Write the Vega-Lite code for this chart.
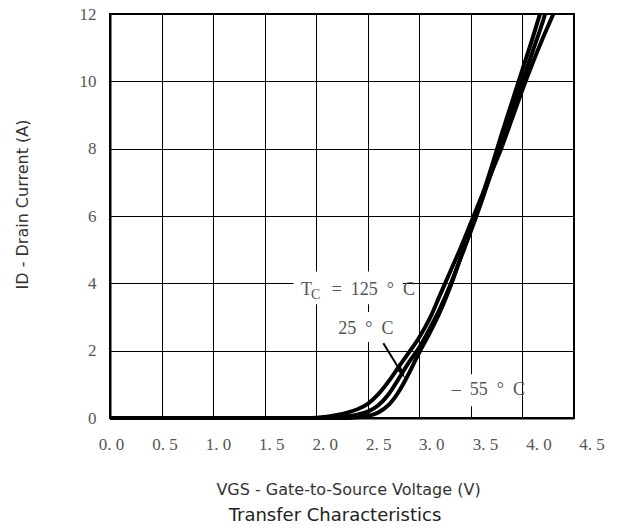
{
  "$schema": "https://vega.github.io/schema/vega-lite/v6.json",
  "width": 464,
  "height": 404,
  "autosize": {"type": "none"},
  "padding": {"left": 110, "top": 14, "right": 45, "bottom": 111},
  "background": "white",
  "title": {"text": "Transfer Characteristics", "orient": "bottom", "anchor": "middle", "frame": "group", "font": "DejaVu Sans", "fontSize": 18, "fontWeight": "normal", "color": "#222", "offset": 10, "dx": -7},
  "config": {"view": {"stroke": "black", "strokeWidth": 2}},
  "datasets": {
    "curves": [
      {"series": "125", "V": 0, "I": 0}, {"series": "125", "V": 1.9, "I": 0}, {"series": "125", "V": 2.0, "I": 0.01}, {"series": "125", "V": 2.1, "I": 0.04}, {"series": "125", "V": 2.2, "I": 0.09}, {"series": "125", "V": 2.3, "I": 0.16}, {"series": "125", "V": 2.4, "I": 0.26}, {"series": "125", "V": 2.5, "I": 0.42}, {"series": "125", "V": 2.6, "I": 0.7}, {"series": "125", "V": 2.7, "I": 1.08}, {"series": "125", "V": 2.8, "I": 1.52}, {"series": "125", "V": 2.9, "I": 1.95}, {"series": "125", "V": 3.0, "I": 2.4}, {"series": "125", "V": 3.1, "I": 2.95}, {"series": "125", "V": 3.2, "I": 3.65}, {"series": "125", "V": 3.3, "I": 4.35}, {"series": "125", "V": 3.4, "I": 5.05}, {"series": "125", "V": 3.5, "I": 5.8}, {"series": "125", "V": 3.6, "I": 6.55}, {"series": "125", "V": 3.7, "I": 7.3}, {"series": "125", "V": 3.8, "I": 8.05}, {"series": "125", "V": 3.9, "I": 8.9}, {"series": "125", "V": 4.0, "I": 9.75}, {"series": "125", "V": 4.1, "I": 10.55}, {"series": "125", "V": 4.2, "I": 11.3}, {"series": "125", "V": 4.3, "I": 12.0},
      {"series": "25", "V": 0, "I": 0}, {"series": "25", "V": 2.1, "I": 0}, {"series": "25", "V": 2.2, "I": 0.02}, {"series": "25", "V": 2.3, "I": 0.05}, {"series": "25", "V": 2.4, "I": 0.1}, {"series": "25", "V": 2.5, "I": 0.19}, {"series": "25", "V": 2.6, "I": 0.37}, {"series": "25", "V": 2.7, "I": 0.7}, {"series": "25", "V": 2.8, "I": 1.17}, {"series": "25", "V": 2.9, "I": 1.66}, {"series": "25", "V": 3.0, "I": 2.1}, {"series": "25", "V": 3.1, "I": 2.65}, {"series": "25", "V": 3.2, "I": 3.25}, {"series": "25", "V": 3.3, "I": 3.95}, {"series": "25", "V": 3.4, "I": 4.75}, {"series": "25", "V": 3.5, "I": 5.55}, {"series": "25", "V": 3.6, "I": 6.4}, {"series": "25", "V": 3.7, "I": 7.3}, {"series": "25", "V": 3.8, "I": 8.2}, {"series": "25", "V": 3.9, "I": 9.1}, {"series": "25", "V": 4.0, "I": 10.0}, {"series": "25", "V": 4.1, "I": 10.9}, {"series": "25", "V": 4.2, "I": 11.8}, {"series": "25", "V": 4.22, "I": 12.0},
      {"series": "-55", "V": 0, "I": 0}, {"series": "-55", "V": 2.3, "I": 0}, {"series": "-55", "V": 2.4, "I": 0.02}, {"series": "-55", "V": 2.5, "I": 0.06}, {"series": "-55", "V": 2.6, "I": 0.16}, {"series": "-55", "V": 2.7, "I": 0.38}, {"series": "-55", "V": 2.8, "I": 0.78}, {"series": "-55", "V": 2.9, "I": 1.33}, {"series": "-55", "V": 3.0, "I": 1.95}, {"series": "-55", "V": 3.1, "I": 2.52}, {"series": "-55", "V": 3.2, "I": 3.15}, {"series": "-55", "V": 3.3, "I": 3.9}, {"series": "-55", "V": 3.4, "I": 4.75}, {"series": "-55", "V": 3.5, "I": 5.6}, {"series": "-55", "V": 3.6, "I": 6.5}, {"series": "-55", "V": 3.7, "I": 7.45}, {"series": "-55", "V": 3.8, "I": 8.45}, {"series": "-55", "V": 3.9, "I": 9.4}, {"series": "-55", "V": 4.0, "I": 10.35}, {"series": "-55", "V": 4.1, "I": 11.3}, {"series": "-55", "V": 4.17, "I": 12.0}
    ],
    "labels": [
      {"label": "T", "V": 1.853, "I": 3.653},
      {"label": "=\u00a0\u00a0125\u00a0\u00a0°\u00a0\u00a0C", "V": 2.15, "I": 3.653},
      {"label": "25\u00a0\u00a0°\u00a0\u00a0C", "V": 2.214, "I": 2.486},
      {"label": "–\u00a0\u00a055\u00a0\u00a0°\u00a0\u00a0C", "V": 3.314, "I": 0.683}
    ],
    "sub": [{"label": "C", "V": 1.95, "I": 3.543}],
    "masks": [
      {"x1": 1.78, "x2": 2.84, "y1": 3.38, "y2": 4.35},
      {"x1": 2.15, "x2": 2.8, "y1": 2.26, "y2": 3.15},
      {"x1": 3.3, "x2": 3.9, "y1": 0.35, "y2": 1.3}
    ],
    "arrow": [{"V1": 2.651, "I1": 2.219, "V2": 2.83, "I2": 1.33}]
  },
  "layer": [
    {
      "data": {"name": "masks"},
      "mark": {"type": "rect", "color": "white"},
      "encoding": {
        "x": {"field": "x1", "type": "quantitative"},
        "x2": {"field": "x2"},
        "y": {"field": "y1", "type": "quantitative"},
        "y2": {"field": "y2"}
      }
    },
    {
      "data": {"name": "curves"},
      "mark": {"type": "line", "color": "black", "strokeWidth": 4, "interpolate": "monotone"},
      "encoding": {
        "x": {
          "field": "V", "type": "quantitative",
          "scale": {"domain": [0, 4.5], "nice": false, "zero": false},
          "axis": {
            "values": [0, 0.5, 1, 1.5, 2, 2.5, 3, 3.5, 4, 4.5],
            "title": "VGS - Gate-to-Source Voltage (V)",
            "labelExpr": "replace(format(datum.value, '.1f'), '.', '.\u00a0')",
            "labelFont": "Liberation Serif", "labelFontSize": 17, "labelColor": "#555",
            "ticks": false, "tickSize": 0, "labelPadding": 18,
            "labelFlush": false, "labelOverlap": false,
            "labelOffset": {
              "condition": [
                {"test": "datum.value == 0.5", "value": 3},
                {"test": "datum.value == 1", "value": 5},
                {"test": "datum.value == 1.5", "value": 6.5},
                {"test": "datum.value == 2", "value": 8.5},
                {"test": "datum.value == 2.5", "value": 10.5},
                {"test": "datum.value == 3", "value": 12},
                {"test": "datum.value == 3.5", "value": 14},
                {"test": "datum.value == 4", "value": 16},
                {"test": "datum.value == 4.5", "value": 17.5}
              ],
              "value": 1
            },
            "grid": true, "gridColor": "black", "gridOpacity": 1, "gridWidth": 1,
            "domainColor": "black", "domainWidth": 2,
            "titleFont": "DejaVu Sans", "titleFontSize": 16, "titleFontWeight": "normal", "titleColor": "#333",
            "titleX": 238, "titleY": 76, "titleBaseline": "alphabetic", "titleAlign": "center"
          }
        },
        "y": {
          "field": "I", "type": "quantitative",
          "scale": {"domain": [0, 12], "nice": false, "zero": false},
          "axis": {
            "values": [0, 2, 4, 6, 8, 10, 12],
            "title": "ID - Drain Current (A)",
            "labelFont": "Liberation Serif", "labelFontSize": 17, "labelColor": "#555",
            "ticks": false, "tickSize": 0, "labelPadding": 14,
            "grid": true, "gridColor": "black", "gridOpacity": 1, "gridWidth": 1,
            "domainColor": "black", "domainWidth": 2,
            "titleFont": "DejaVu Sans", "titleFontSize": 16, "titleFontWeight": "normal", "titleColor": "#333",
            "titleX": -88, "titleY": 190, "titleAngle": -90, "titleBaseline": "middle", "titleAlign": "center"
          }
        },
        "detail": {"field": "series"}
      }
    },
    {
      "data": {"name": "labels"},
      "mark": {"type": "text", "align": "left", "baseline": "alphabetic", "font": "Liberation Serif", "fontSize": 18, "color": "#555"},
      "encoding": {
        "x": {"field": "V", "type": "quantitative"},
        "y": {"field": "I", "type": "quantitative"},
        "text": {"field": "label"}
      }
    },
    {
      "data": {"name": "sub"},
      "mark": {"type": "text", "align": "left", "baseline": "alphabetic", "font": "Liberation Serif", "fontSize": 14, "color": "#555"},
      "encoding": {
        "x": {"field": "V", "type": "quantitative"},
        "y": {"field": "I", "type": "quantitative"},
        "text": {"field": "label"}
      }
    },
    {
      "data": {"name": "arrow"},
      "mark": {"type": "rule", "color": "black", "strokeWidth": 2},
      "encoding": {
        "x": {"field": "V1", "type": "quantitative"},
        "y": {"field": "I1", "type": "quantitative"},
        "x2": {"field": "V2"},
        "y2": {"field": "I2"}
      }
    },
    {
      "data": {"name": "arrow"},
      "mark": {"type": "point", "shape": "M0,1L-0.45,-1L0.45,-1Z", "filled": true, "color": "black", "opacity": 1, "size": 160, "angle": -32},
      "encoding": {
        "x": {"field": "V2", "type": "quantitative"},
        "y": {"field": "I2", "type": "quantitative"}
      }
    }
  ]
}
